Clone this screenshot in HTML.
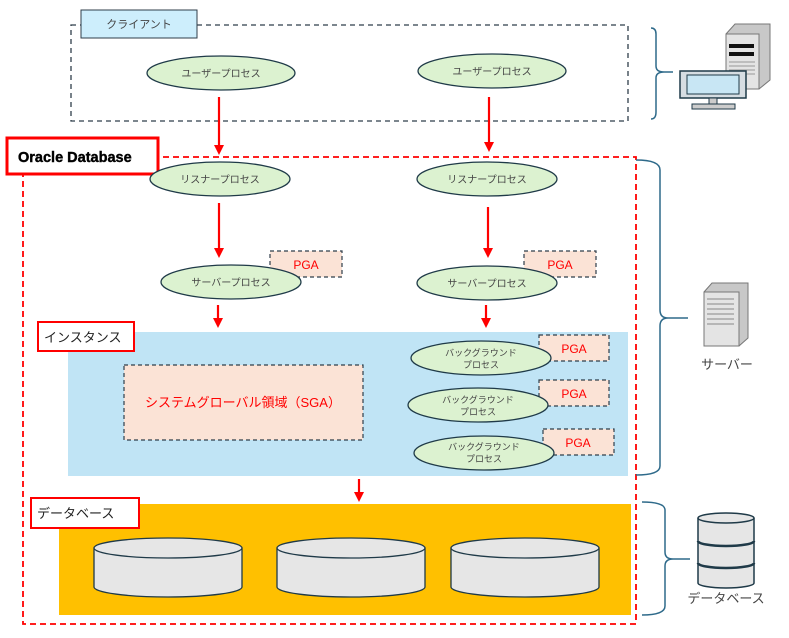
<!DOCTYPE html>
<html><head><meta charset="utf-8"><style>
html,body{margin:0;padding:0;background:#fff;}
svg{display:block;font-family:"Liberation Sans","Noto Sans CJK JP",sans-serif;}
</style></head><body>
<svg width="789" height="638" viewBox="0 0 789 638" xmlns="http://www.w3.org/2000/svg">
<defs>
<marker id="ah" markerWidth="10" markerHeight="10" refX="5" refY="5" orient="auto" markerUnits="userSpaceOnUse"><path d="M0,0 L10,5 L0,10 z" fill="#f00"/></marker>
</defs>
<rect x="71" y="25" width="557" height="96" fill="none" stroke="#2f3e4a" stroke-width="1.3" stroke-dasharray="5,4"/>
<rect x="81" y="10" width="116" height="28" fill="#cdeefc" stroke="#2f3e4a" stroke-width="1"/>
<text x="139" y="28" font-size="11" fill="#444" text-anchor="middle">クライアント</text>
<g fill="#dcf2d0" stroke="#1f3a48" stroke-width="1.3">
<ellipse cx="221" cy="73" rx="74" ry="17"/>
<ellipse cx="492" cy="71" rx="74" ry="17"/>
</g>
<g font-size="10" fill="#444" text-anchor="middle">
<text x="221" y="77">ユーザープロセス</text>
<text x="492" y="75">ユーザープロセス</text>
</g>
<rect x="23" y="157" width="613" height="467" fill="none" stroke="#f00" stroke-width="1.8" stroke-dasharray="6,4"/>
<rect x="7" y="138" width="151" height="36" fill="#fff" stroke="#f00" stroke-width="3"/>
<text x="18" y="162" font-size="14.5" font-weight="bold" fill="#000" stroke="#000" stroke-width="0.4">Oracle Database</text>
<rect x="68" y="332" width="560" height="144" fill="#c0e4f5"/>
<rect x="38" y="322" width="96" height="29" fill="#fff" stroke="#f00" stroke-width="2"/>
<text x="44" y="342" font-size="13" fill="#222">インスタンス</text>
<rect x="124" y="365" width="239" height="75" fill="#fbe3d6" stroke="#2f3e4a" stroke-width="1.2" stroke-dasharray="4,3"/>
<text x="243" y="407" font-size="13" fill="#f00" text-anchor="middle">システムグローバル領域（SGA）</text>
<rect x="59" y="504" width="572" height="111" fill="#ffc000"/>
<rect x="31" y="498" width="108" height="30" fill="#fff" stroke="#f00" stroke-width="2"/>
<text x="37" y="518" font-size="13" fill="#222">データベース</text>
<g fill="#e6e6e6" stroke="#1f3a48" stroke-width="1.3">
<path d="M94,548 V587 A74,10 0 0 0 242,587 V548"/><ellipse cx="168" cy="548" rx="74" ry="10"/>
<path d="M277,548 V587 A74,10 0 0 0 425,587 V548"/><ellipse cx="351" cy="548" rx="74" ry="10"/>
<path d="M451,548 V587 A74,10 0 0 0 599,587 V548"/><ellipse cx="525" cy="548" rx="74" ry="10"/>
</g>
<g fill="#fbe3d6" stroke="#2f3e4a" stroke-width="1.2" stroke-dasharray="4,3">
<rect x="270" y="251" width="72" height="26"/>
<rect x="524" y="251" width="72" height="26"/>
<rect x="539" y="335" width="70" height="26"/>
<rect x="539" y="380" width="70" height="26"/>
<rect x="543" y="429" width="71" height="26"/>
</g>
<g font-size="12" fill="#f00" text-anchor="middle">
<text x="306" y="269">PGA</text><text x="560" y="269">PGA</text>
<text x="574" y="353">PGA</text><text x="574" y="398">PGA</text><text x="578" y="447">PGA</text>
</g>
<g fill="#dcf2d0" stroke="#1f3a48" stroke-width="1.3">
<ellipse cx="220" cy="179" rx="70" ry="17"/>
<ellipse cx="487" cy="179" rx="70" ry="17"/>
<ellipse cx="231" cy="282" rx="70" ry="17"/>
<ellipse cx="487" cy="283" rx="70" ry="17"/>
<ellipse cx="481" cy="358" rx="70" ry="17"/>
<ellipse cx="478" cy="405" rx="70" ry="17"/>
<ellipse cx="484" cy="453" rx="70" ry="17"/>
</g>
<g font-size="10" fill="#444" text-anchor="middle">
<text x="220" y="183">リスナープロセス</text>
<text x="487" y="183">リスナープロセス</text>
<text x="231" y="286">サーバープロセス</text>
<text x="487" y="287">サーバープロセス</text>
<text x="481" y="356" font-size="9">バックグラウンド</text><text x="481" y="368" font-size="9">プロセス</text>
<text x="478" y="403" font-size="9">バックグラウンド</text><text x="478" y="415" font-size="9">プロセス</text>
<text x="484" y="450" font-size="9">バックグラウンド</text><text x="484" y="462" font-size="9">プロセス</text>
</g>
<g stroke="#f00" stroke-width="2.2" marker-end="url(#ah)">
<line x1="219" y1="97" x2="219" y2="150"/>
<line x1="489" y1="97" x2="489" y2="147"/>
<line x1="219" y1="203" x2="219" y2="253"/>
<line x1="488" y1="207" x2="488" y2="253"/>
<line x1="218" y1="305" x2="218" y2="323"/>
<line x1="486" y1="305" x2="486" y2="323"/>
<line x1="359" y1="479" x2="359" y2="497"/>
</g>
<g fill="none" stroke="#2e6a8a" stroke-width="1.5">
<path d="M651,28 Q656,28 656,34 V66 Q656,72 664,72 H673 H664 Q656,72 656,78 V112 Q656,119 651,119"/>
<path d="M636,160 Q660,160 660,170 V310 Q660,318 668,318 H688 H668 Q660,318 660,326 V466 Q660,475 636,475"/>
<path d="M642,502 Q665,502 665,510 V552 Q665,559 673,559 H690 H673 Q665,559 665,566 V606 Q665,615 642,615"/>
</g>
<polygon points="726,34 735,24 770,24 770,80 759,89 726,89" fill="#c8c8c8" stroke="#777"/>
<rect x="726" y="34" width="33" height="55" fill="#e4e4e4" stroke="#777"/>
<rect x="729" y="44" width="25" height="4" fill="#111"/>
<rect x="729" y="52" width="25" height="4" fill="#111"/>
<g stroke="#999"><line x1="729" y1="62" x2="755" y2="62"/><line x1="729" y1="66" x2="755" y2="66"/><line x1="729" y1="70" x2="755" y2="70"/><line x1="729" y1="74" x2="755" y2="74"/></g>
<rect x="680" y="71" width="66" height="27" fill="#d6dde2" stroke="#1f3a48" stroke-width="1.5"/>
<rect x="687" y="75" width="52" height="19" fill="#c8e6f4" stroke="#1f3a48"/>
<rect x="709" y="98" width="8" height="6" fill="#ccc" stroke="#1f3a48"/>
<rect x="692" y="104" width="43" height="5" fill="#ccc" stroke="#1f3a48"/>
<polygon points="704,292 712,283 748,283 748,338 739,346 704,346" fill="#c8c8c8" stroke="#777"/>
<rect x="704" y="292" width="35" height="54" fill="#e4e4e4" stroke="#777"/>
<g stroke="#888"><line x1="707" y1="299" x2="734" y2="299"/><line x1="707" y1="304" x2="734" y2="304"/><line x1="707" y1="309" x2="734" y2="309"/><line x1="707" y1="314" x2="734" y2="314"/><line x1="707" y1="319" x2="734" y2="319"/><line x1="707" y1="324" x2="734" y2="324"/></g>
<text x="727" y="369" font-size="13" fill="#444" text-anchor="middle">サーバー</text>
<g fill="#e6e6e6" stroke="#1f3a48" stroke-width="1.5">
<path d="M698,518 V583 A28,5 0 0 0 754,583 V518"/>
<ellipse cx="726" cy="518" rx="28" ry="5"/>
<path d="M698,541 A28,5 0 0 0 754,541" stroke-width="2.5"/>
<path d="M698,563 A28,5 0 0 0 754,563" stroke-width="2.5"/>
</g>
<text x="726" y="603" font-size="13" fill="#444" text-anchor="middle">データベース</text>
</svg>
</body></html>
